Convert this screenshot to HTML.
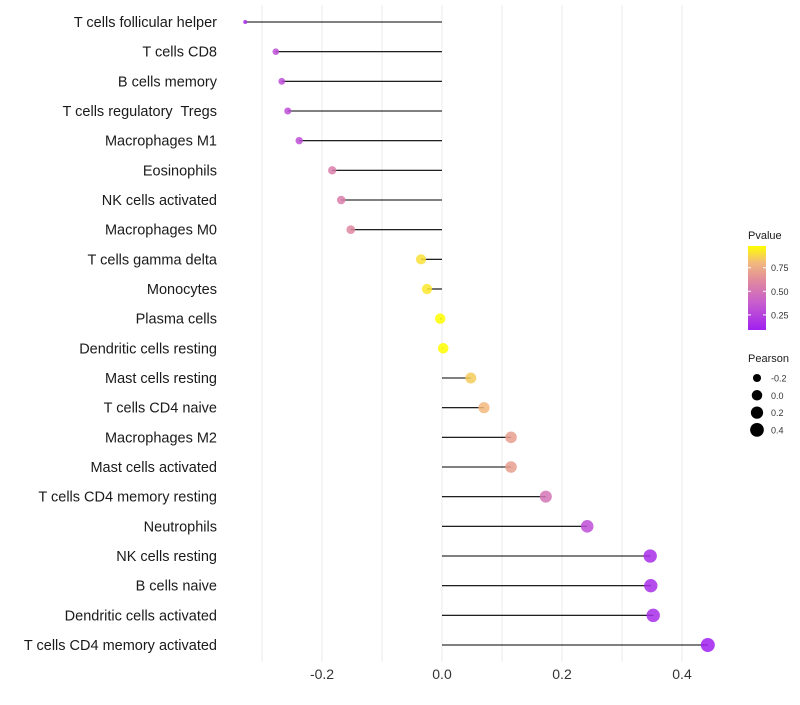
<!DOCTYPE html>
<html><head><meta charset="utf-8"><style>
body{margin:0;background:#fff;font-family:"Liberation Sans",sans-serif}
text{white-space:pre}
</style></head><body>
<svg id="chart" width="800" height="700" xmlns="http://www.w3.org/2000/svg"></svg>
<script>
const categories=["T cells follicular helper","T cells CD8","B cells memory","T cells regulatory  Tregs","Macrophages M1","Eosinophils","NK cells activated","Macrophages M0","T cells gamma delta","Monocytes","Plasma cells","Dendritic cells resting","Mast cells resting","T cells CD4 naive","Macrophages M2","Mast cells activated","T cells CD4 memory resting","Neutrophils","NK cells resting","B cells naive","Dendritic cells activated","T cells CD4 memory activated"];
const pearson=[-0.328,-0.277,-0.267,-0.257,-0.238,-0.183,-0.168,-0.152,-0.035,-0.025,-0.003,0.002,0.048,0.07,0.115,0.115,0.173,0.242,0.347,0.348,0.352,0.443];
const pvalue=[0.15,0.3,0.3,0.3,0.3,0.55,0.55,0.6,0.9,0.92,0.98,0.98,0.85,0.8,0.7,0.7,0.5,0.3,0.15,0.15,0.15,0.09];
const xTicks=[-0.2,0,0.2,0.4];
const xTickLabels=["-0.2","0.0","0.2","0.4"];
const xMinor=[-0.3,-0.1,0.1,0.3];
const pTicks=[0.25,0.5,0.75];
const sizeTicks=[-0.2,0,0.2,0.4];

const svg=document.getElementById('chart');
const NS="http://www.w3.org/2000/svg";
function mk(t,a,p){const e=document.createElementNS(NS,t);for(const k in a)e.setAttribute(k,a[k]);(p||svg).appendChild(e);return e;}
const x=v=>442+v*600;
const y=i=>22+i*(623/21);
const pMin=Math.min(...pearson),pMax=Math.max(...pearson);
const rad=v=>{const t=Math.max(0,Math.min(1,(v-pMin)/(pMax-pMin)));return 2+5*Math.sqrt(t);};
const stops=[[0,[160,32,240]],[0.33,[200,95,205]],[0.6,[225,140,155]],[0.8,[242,185,125]],[1,[255,255,0]]];
function colT(t){t=Math.max(0,Math.min(1,t));for(let k=1;k<stops.length;k++){if(t<=stops[k][0]){const a=stops[k-1],b=stops[k];const f=(t-a[0])/(b[0]-a[0]);return `rgb(${a[1].map((c,i)=>Math.round(c+(b[1][i]-c)*f)).join(',')})`;}}return 'rgb(255,255,0)';}
const col=p=>colT((p-0.09)/(0.98-0.09));

const grid=mk('g',{});

xTicks.concat(xMinor).forEach(v=>{mk('line',{x1:x(v),x2:x(v),y1:5,y2:662,stroke:'#ebebeb','stroke-width':1},grid);});

categories.forEach((c,i)=>{
 const l=mk('text',{x:217,y:y(i)+5,'text-anchor':'end','font-size':14.5,fill:'#1a1a1a'});
 l.textContent=c;
 
 
 const ln=mk('line',{x1:x(0),x2:x(pearson[i]),y1:y(i),y2:y(i),stroke:'#000','stroke-width':1.1});
 
 
 const pt=mk('circle',{cx:x(pearson[i]),cy:y(i),r:rad(pearson[i]),fill:col(pvalue[i]),'fill-opacity':0.85});
 
 
});

xTicks.forEach((v,i)=>{
 const t=mk('text',{x:x(v),y:679,'text-anchor':'middle','font-size':14,fill:'#333'});
 t.textContent=xTickLabels[i];
 
 
});

const lt=mk('text',{x:748,y:239,'font-size':11,fill:'#1a1a1a'});lt.textContent='Pvalue';

const defs=mk('defs',{});const g=mk('linearGradient',{id:'pg',x1:0,y1:1,x2:0,y2:0},defs);
stops.forEach(s=>mk('stop',{offset:(s[0]*100)+'%','stop-color':`rgb(${s[1].join(',')})`},g));
const bar=mk('rect',{x:748,y:246,width:18,height:84,fill:'url(#pg)'});

const py=p=>330-(p-0.09)/(0.98-0.09)*84;
pTicks.forEach(p=>{
 mk('line',{x1:748,x2:751,y1:py(p),y2:py(p),stroke:'#fff'});mk('line',{x1:763,x2:766,y1:py(p),y2:py(p),stroke:'#fff'});
 const t=mk('text',{x:771,y:py(p)+3.5,'font-size':9,fill:'#333'});t.textContent=p.toFixed(2);
 
});
const st=mk('text',{x:748,y:362,'font-size':11,fill:'#1a1a1a'});st.textContent='Pearson';

sizeTicks.forEach((v,i)=>{
 const cy=378+i*17.3;
 const c=mk('circle',{cx:757,cy:cy,r:rad(v),fill:'#000'});
 
 const t=mk('text',{x:771,y:cy+3.5,'font-size':9,fill:'#333'});t.textContent=v.toFixed(1);
 
});
</script>
</body></html>
